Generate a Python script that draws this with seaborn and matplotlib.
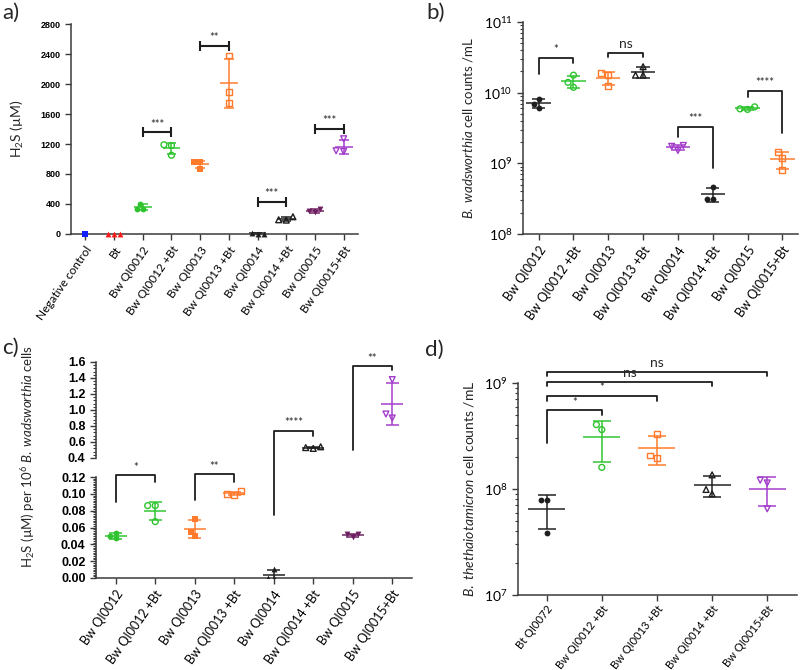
import numpy as np
import pandas as pd
import matplotlib
matplotlib.use('Agg')
import matplotlib.pyplot as plt
import matplotlib.ticker as mticker
from matplotlib.lines import Line2D
import seaborn as sns

sns.set_style('ticks')
plt.rcParams['font.family'] = ['Lato', 'DejaVu Sans']
plt.rcParams['mathtext.fontset'] = 'custom'
plt.rcParams['mathtext.rm'] = 'Lato'
plt.rcParams['mathtext.it'] = 'Lato:italic'
plt.rcParams['mathtext.bf'] = 'Lato:bold'

# colours
BLUE = '#1020ff'; RED = '#ff1a1a'; GREEN = '#2fc42f'; ORANGE = '#ff7a2a'
BLACK = '#1e1e1e'; PLUM = '#6e1f60'; PURPLE = '#a23ccb'
AXC = '#3a3a3a'

# ---- panel a : H2S (uM)
a_groups = ['Negative control', 'Bt', 'Bw QI0012', 'Bw QI0012 +Bt', 'Bw QI0013',
            'Bw QI0013 +Bt', 'Bw QI0014', 'Bw QI0014 +Bt', 'Bw QI0015', 'Bw QI0015+Bt']
a_values = [[0], [0, 0, 0], [400, 330, 335], [1190, 1180, 1050], [960, 955, 870],
            [2380, 1890, 1750], [15, 5, 0], [230, 185, 190], [330, 290, 300],
            [1270, 1100, 1110]]
a_colors = [BLUE, RED, GREEN, GREEN, ORANGE, ORANGE, BLACK, BLACK, PLUM, PURPLE]
a_markers = ['s', '^', 'o', 'o', 's', 's', '^', '^', 'v', 'v']
a_filled = [True, True, True, False, True, False, True, False, True, False]
a_sig = [(2, 3, 1355, '***'), (4, 5, 2510, '**'), (6, 7, 425, '***'), (8, 9, 1400, '***')]

# ---- panel b : B. wadsworthia counts
b_groups = ['Bw QI0012', 'Bw QI0012 +Bt', 'Bw QI0013', 'Bw QI0013 +Bt',
            'Bw QI0014', 'Bw QI0014 +Bt', 'Bw QI0015', 'Bw QI0015+Bt']
b_values = [[8.2e9, 6.9e9, 6.1e9], [1.77e10, 1.4e10, 1.19e10], [1.9e10, 1.77e10, 1.24e10],
            [2.33e10, 1.77e10, 1.77e10], [1.79e9, 1.74e9, 1.52e9], [4.57e8, 3.16e8, 3.16e8],
            [6.3e9, 5.9e9, 5.8e9], [1.43e9, 1.19e9, 8.1e8]]
b_colors = [BLACK, GREEN, ORANGE, BLACK, PURPLE, BLACK, GREEN, ORANGE]
b_markers = ['o', 'o', 's', '^', 'v', 'o', 'o', 's']
b_filled = [True, False, False, False, False, True, False, False]
# (x1, x2, top, left leg end, right leg end, label)
b_sig = [(0, 1, 3.12e10, 1.83e10, 2.65e10, '*'), (2, 3, 3.67e10, 3.15e10, 3.15e10, 'ns'),
         (4, 5, 3.31e9, 2.39e9, 8.6e8, '***'), (6, 7, 1.07e10, 8.8e9, 2.67e9, '****')]

# ---- panel c : H2S per 10^6 cells (broken axis)
c_groups = b_groups
c_values = [[0.054, 0.050, 0.047], [0.086, 0.086, 0.067], [0.070, 0.055, 0.050],
            [0.103, 0.100, 0.099], [0.011, 0.0, 0.0], [0.54, 0.53, 0.52],
            [0.052, 0.052, 0.049], [1.38, 0.90, 0.95]]
c_colors = [GREEN, GREEN, ORANGE, ORANGE, BLACK, BLACK, PLUM, PURPLE]
c_markers = ['o', 'o', 's', 's', '^', '^', 'v', 'v']
c_filled = [True, False, True, False, True, False, True, False]
# (x1, x2, top, top part, left end, left part, right end, right part, label)
c_sig = [(0, 1, 0.122, 'l', 0.0905, 'l', 0.114, 'l', '*'),
         (2, 3, 0.123, 'l', 0.0925, 'l', 0.114, 'l', '**'),
         (4, 5, 0.7375, 'u', 0.0747, 'l', 0.671, 'u', '****'),
         (6, 7, 1.546, 'u', 0.496, 'u', 1.496, 'u', '**')]

# ---- panel d : B. thetaiotaomicron counts
d_groups = ['Bt QI0072', 'Bw QI0012 +Bt', 'Bw QI0013 +Bt', 'Bw QI0014 +Bt', 'Bw QI0015+Bt']
d_values = [[7.8e7, 7.8e7, 3.85e7], [4.05e8, 3.63e8, 1.6e8], [3.3e8, 2.07e8, 1.96e8],
            [1.36e8, 9.9e7, 9.0e7], [1.21e8, 1.14e8, 6.5e7]]
d_colors = [BLACK, GREEN, ORANGE, BLACK, PURPLE]
d_markers = ['o', 'o', 's', '^', 'v']
d_filled = [True, False, False, False, False]
d_sig = [(0, 1, 5.53e8, 2.72e8, 5.03e8, '*'), (0, 2, 7.52e8, 6.73e8, 6.73e8, '*'),
         (0, 3, 1.026e9, 9.33e8, 9.33e8, 'ns'), (0, 4, 1.276e9, 1.16e9, 1.16e9, 'ns')]

W, H = 800, 670
fig = plt.figure(figsize=(8, 6.7), dpi=100)


def box(l, t, r, b):
    return [l / W, 1 - b / H, (r - l) / W, (b - t) / H]


ax_a = fig.add_axes(box(71, 24, 358, 234))
ax_b = fig.add_axes(box(523, 22, 798, 234))
ax_cu = fig.add_axes(box(96, 362, 412, 458))
ax_cl = fig.add_axes(box(96, 477, 412, 578))
ax_d = fig.add_axes(box(518, 383, 797, 595))


def draw_panel(ax, groups, values, colors, markers, filled, log=False, mean_w=0.62, cap_w=0.34):
    df = pd.DataFrame({'group': np.repeat(groups, [len(v) for v in values]),
                       'value': np.concatenate(values).astype(float)})
    for i, (g, c, m, f) in enumerate(zip(groups, colors, markers, filled)):
        sub = df[df['group'] == g]
        kw = dict(color=c, edgecolor=c, linewidth=0 if f else 1.0)
        if not f:
            kw['facecolors'] = 'none'
        sns.swarmplot(data=sub, x='group', y='value', order=groups, marker=m, size=4.2,
                      ax=ax, log_scale=True if log else None, zorder=3, **kw)
        v = sub['value'].to_numpy()
        mu = v.mean()
        if mu == 0 or len(v) < 2:
            continue
        sd = v.std(ddof=1)
        ax.hlines(mu, i - mean_w / 2, i + mean_w / 2, color=c, lw=1.2, alpha=0.9)
        ax.hlines([mu - sd, mu + sd], i - cap_w / 2, i + cap_w / 2, color=c, lw=1.2, alpha=0.9)
        ax.vlines(i, max(mu - sd, 0), mu + sd, color=c, lw=1.2, alpha=0.9)
    ax.set_xlabel('')
    ax.set_ylabel('')


def style_axes(ax, groups, xlim, fs=9, rot=55):
    sns.despine(ax=ax)
    for s in ['left', 'bottom']:
        ax.spines[s].set_color(AXC)
        ax.spines[s].set_linewidth(1.1)
    ax.tick_params(colors=AXC, labelcolor='black', length=4, width=1)
    ax.tick_params(which='minor', colors=AXC, length=2.5, width=0.8)
    ax.set_xticks(range(len(groups)))
    ax.set_xticklabels(groups, rotation=rot, ha='right', rotation_mode='anchor', fontsize=fs)
    ax.set_xlim(*xlim)


def bold_y(ax, fs):
    plt.setp(ax.get_yticklabels(), fontweight='bold', family='Liberation Sans', fontsize=fs)


# panel a
draw_panel(ax_a, a_groups, a_values, a_colors, a_markers, a_filled)
style_axes(ax_a, a_groups, (-0.5, 9.5), fs=8.5)
ax_a.set_ylim(0, 2800)
ax_a.set_yticks(np.arange(0, 2801, 400))
bold_y(ax_a, 6.5)
ax_a.set_ylabel('H$_2$S (µM)', fontsize=10, labelpad=10)
# points sitting on zero stay whole over the axis line
for coll in ax_a.collections:
    if len(coll.get_offsets()) > 0:
        coll.set_clip_on(False)

# panel b
draw_panel(ax_b, b_groups, b_values, b_colors, b_markers, b_filled, log=True, mean_w=0.7, cap_w=0.38)
style_axes(ax_b, b_groups, (-0.45, 7.45))
ax_b.set_ylim(1e8, 1e11)
ax_b.yaxis.set_major_locator(mticker.LogLocator(base=10))
ax_b.yaxis.set_minor_locator(mticker.LogLocator(base=10, subs=np.arange(2, 10)))
ax_b.yaxis.set_minor_formatter(mticker.NullFormatter())
ax_b.tick_params(axis='y', labelsize=10)
ax_b.set_ylabel(r'$\mathit{B.\ wadsworthia}$ cell counts /mL', fontsize=9.5, labelpad=6)

# panel c (broken axis)
for ax in (ax_cu, ax_cl):
    draw_panel(ax, c_groups, c_values, c_colors, c_markers, c_filled, mean_w=0.55, cap_w=0.34)
    style_axes(ax, c_groups, (-0.5, 7.5))
ax_cu.spines['bottom'].set_visible(False)
ax_cu.tick_params(axis='x', which='both', bottom=False, labelbottom=False)
ax_cu.set_ylim(0.4, 1.6)
ax_cu.set_yticks(np.arange(0.4, 1.61, 0.2))
ax_cu.yaxis.set_major_formatter(mticker.FormatStrFormatter('%.1f'))
ax_cu.yaxis.set_minor_locator(mticker.AutoMinorLocator(5))
ax_cl.set_ylim(0, 0.12)
ax_cl.set_yticks(np.arange(0, 0.121, 0.02))
ax_cl.yaxis.set_major_formatter(mticker.FormatStrFormatter('%.2f'))
ax_cl.yaxis.set_minor_locator(mticker.AutoMinorLocator(10))
bold_y(ax_cu, 9)
bold_y(ax_cl, 9)
fig.text(37 / W, 1 - 456 / H, r'H$_2$S (µM) per 10$^6$ $\mathit{B.\ wadsworthia}$ cells',
         rotation=90, ha='right', va='center', fontsize=9.5)

# panel d
draw_panel(ax_d, d_groups, d_values, d_colors, d_markers, d_filled, log=True, mean_w=0.67, cap_w=0.33)
style_axes(ax_d, d_groups, (-0.52, 4.54), fs=8, rot=52)
ax_d.set_ylim(1e7, 1e9)
ax_d.yaxis.set_major_locator(mticker.LogLocator(base=10))
ax_d.yaxis.set_minor_locator(mticker.LogLocator(base=10, subs=np.arange(2, 10)))
ax_d.yaxis.set_minor_formatter(mticker.NullFormatter())
ax_d.tick_params(axis='y', labelsize=10)
ax_d.tick_params(axis='x', pad=2)
ax_d.set_ylabel(r'$\mathit{B.\ thethaiotamicron}$ cell counts /mL', fontsize=10, labelpad=6)


# significance marks
def to_fig(ax, x, y):
    return fig.transFigure.inverted().transform(ax.transData.transform((x, y)))


def bracket(x1, x2, top, left, right, label):
    # top/left/right are (axes, y)
    p = [to_fig(left[0], x1, left[1]), to_fig(top[0], x1, top[1]),
         to_fig(top[0], x2, top[1]), to_fig(right[0], x2, right[1])]
    xs, ys = zip(*p)
    fig.add_artist(Line2D(xs, ys, color=BLACK, lw=1.3, transform=fig.transFigure))
    mx, my = to_fig(top[0], (x1 + x2) / 2, top[1])
    fs = 10 if label == 'ns' else 8
    fig.text(mx, my + 0.004, label, ha='center', va='bottom', fontsize=fs)


for x1, x2, y, lab in a_sig:
    ax_a.plot([x1, x2], [y, y], color=BLACK, lw=1.5, marker='|', markersize=7,
              markeredgewidth=1.5)
    ax_a.text((x1 + x2) / 2, y + 35, lab, ha='center', va='bottom', fontsize=8)

for x1, x2, top, l, r, lab in b_sig:
    bracket(x1, x2, (ax_b, top), (ax_b, l), (ax_b, r), lab)

part = {'u': ax_cu, 'l': ax_cl}
for x1, x2, top, tp, l, lp, r, rp, lab in c_sig:
    bracket(x1, x2, (part[tp], top), (part[lp], l), (part[rp], r), lab)

for x1, x2, top, l, r, lab in d_sig:
    bracket(x1, x2, (ax_d, top), (ax_d, l), (ax_d, r), lab)

# panel letters
for x, y, t in [(2, 3, 'a)'), (426, 3, 'b)'), (2, 338, 'c)'), (425, 340, 'd)')]:
    fig.text(x / W, 1 - y / H, t, ha='left', va='top', fontsize=16)

fig.savefig('out.png', dpi=100)
